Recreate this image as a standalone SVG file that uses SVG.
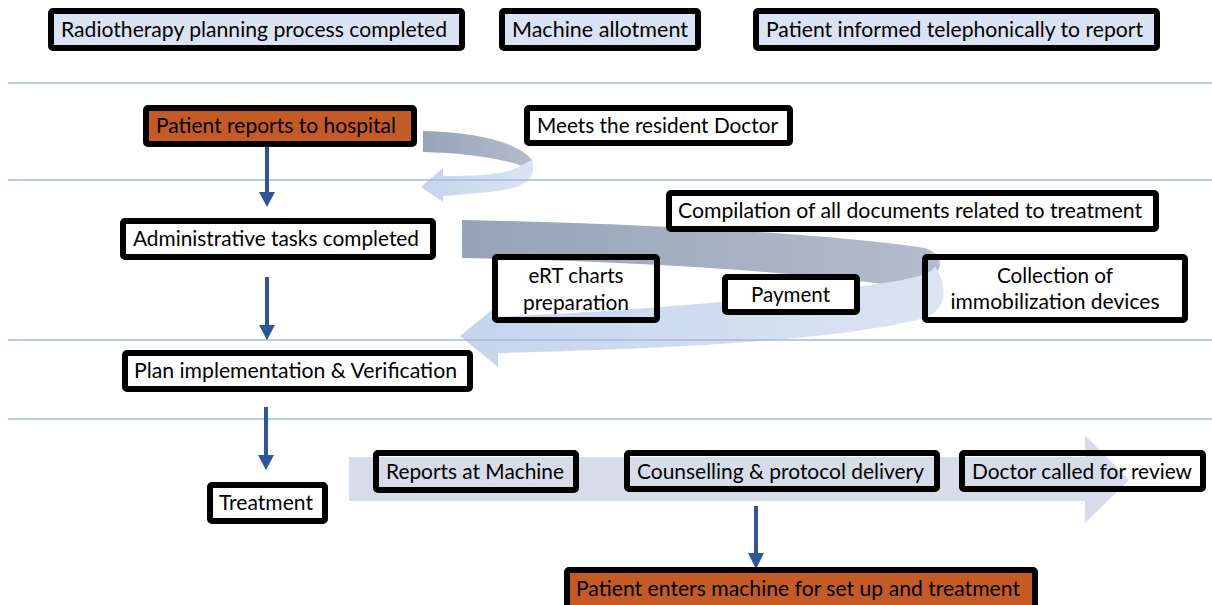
<svg xmlns="http://www.w3.org/2000/svg" width="1212" height="605" viewBox="0 0 1212 605">
<style>
.box{stroke:#000;stroke-width:6;stroke-linejoin:round}
.lb{fill:#dae3f3}
.wh{fill:#fff}
.no{fill:none}
.or{fill:#c45a26}
.t{font-family:Lato,"Liberation Sans",sans-serif;font-size:21px;fill:#000;text-anchor:middle}
.sep{stroke:#a3b8e0;stroke-width:1.5}
.conn line{stroke:#2f5597;stroke-width:4}
.conn polygon{fill:#2f5597}
</style>
<defs>
<linearGradient id="dk" x1="0" y1="0" x2="1" y2="0">
<stop offset="0" stop-color="#98a3b8"/>
<stop offset="1" stop-color="#b3bccc"/>
</linearGradient>
<linearGradient id="lt" x1="0" y1="0" x2="1" y2="0">
<stop offset="0" stop-color="#c6d4ec"/>
<stop offset="1" stop-color="#dbe4f3"/>
</linearGradient>
</defs>

<g id="bigshapes">
<path d="M423,131 C475,132 518,142 532,160 L532,170 C512,160 470,153 423,152 Z" fill="url(#dk)"/>
<path d="M532,160 C538,182 520,189 490,192 L443,196 L443,202 L421,187 L443,168 L443,176 C480,176 508,174 520,166 Z" fill="url(#lt)"/>
<path d="M462,220 C650,224 830,234 925,248 C945,255 945,272 925,280 L905,287 C800,272 650,262 462,258 Z" fill="url(#dk)"/>
<path d="M935,266 C950,290 945,310 925,318 C850,338 700,348 498,353 L498,367 L460,336 L498,305 L498,317 C650,310 780,298 870,285 C915,279 932,274 935,266 Z" fill="url(#lt)"/>
<polygon points="349,457 1085,457 1085,435 1129,480 1085,523 1085,501 349,501" fill="#d6dde8"/>
</g>

<g id="separators">
<line class="sep" x1="8" y1="83" x2="1212" y2="83"/>
<line class="sep" x1="8" y1="180" x2="1212" y2="180"/>
<line class="sep" x1="8" y1="340" x2="1212" y2="340"/>
<line class="sep" x1="8" y1="419" x2="1212" y2="419"/>
</g>

<g id="connectors" class="conn">
<line x1="267" y1="147" x2="267" y2="193"/><polygon points="259,192 275,192 267,207"/>
<line x1="267" y1="277" x2="267" y2="326"/><polygon points="259,325 275,325 267,340"/>
<line x1="266" y1="407" x2="266" y2="456"/><polygon points="258,455 274,455 266,470"/>
<line x1="756" y1="506" x2="756" y2="554"/><polygon points="748,553 764,553 756,569"/>
</g>

<g id="n1"><rect class="box lb" x="51" y="11" width="411" height="37" rx="2"/><text class="t" x="254" y="37" textLength="386" lengthAdjust="spacingAndGlyphs">Radiotherapy planning process completed</text></g>
<g id="n2"><rect class="box lb" x="502" y="11" width="196" height="37" rx="2"/><text class="t" x="600" y="37" textLength="176" lengthAdjust="spacingAndGlyphs">Machine allotment</text></g>
<g id="n3"><rect class="box lb" x="756" y="11" width="401" height="37" rx="2"/><text class="t" x="954.5" y="37" textLength="377" lengthAdjust="spacingAndGlyphs">Patient informed telephonically to report</text></g>

<g id="n4"><rect class="box or" x="146" y="108" width="268" height="36" rx="2"/><text class="t" x="276" y="133" textLength="240" lengthAdjust="spacingAndGlyphs">Patient reports to hospital</text></g>
<g id="n5"><rect class="box wh" x="527" y="108" width="263" height="35" rx="2"/><text class="t" x="657.5" y="133" textLength="241" lengthAdjust="spacingAndGlyphs">Meets the resident Doctor</text></g>
<g id="n6"><rect class="box wh" x="123" y="221" width="310" height="36" rx="2"/><text class="t" x="276" y="246" textLength="286" lengthAdjust="spacingAndGlyphs">Administrative tasks completed</text></g>
<g id="n7"><rect class="box wh" x="669" y="193" width="487" height="36" rx="2"/><text class="t" x="910" y="218" textLength="464" lengthAdjust="spacingAndGlyphs">Compilation of all documents related to treatment</text></g>
<g id="n8"><rect class="box no" x="495" y="257" width="162" height="63" rx="2"/><text class="t" x="576" y="283" textLength="95" lengthAdjust="spacingAndGlyphs">eRT charts</text><text class="t" x="576" y="310" textLength="106" lengthAdjust="spacingAndGlyphs">preparation</text></g>
<g id="n9"><rect class="box wh" x="725" y="277" width="132" height="35" rx="2"/><text class="t" x="790.5" y="302" textLength="79" lengthAdjust="spacingAndGlyphs">Payment</text></g>
<g id="n10"><rect class="box no" x="925" y="257" width="260" height="63" rx="2"/><text class="t" x="1055" y="283" textLength="116" lengthAdjust="spacingAndGlyphs">Collection of</text><text class="t" x="1055" y="309" textLength="209" lengthAdjust="spacingAndGlyphs">immobilization devices</text></g>
<g id="n11"><rect class="box wh" x="125" y="353" width="345" height="36" rx="2"/><text class="t" x="295.5" y="378" textLength="323" lengthAdjust="spacingAndGlyphs">Plan implementation &amp; Verification</text></g>
<g id="n12"><rect class="box wh" x="210" y="485" width="115" height="36" rx="2"/><text class="t" x="266" y="510" textLength="94" lengthAdjust="spacingAndGlyphs">Treatment</text></g>
<g id="n13"><rect class="box no" x="376" y="453" width="200" height="37" rx="2"/><text class="t" x="475" y="479" textLength="178" lengthAdjust="spacingAndGlyphs">Reports at Machine</text></g>
<g id="n14"><rect class="box no" x="627" y="453" width="310" height="36" rx="2"/><text class="t" x="780.5" y="479" textLength="287" lengthAdjust="spacingAndGlyphs">Counselling &amp; protocol delivery</text></g>
<g id="n15"><rect class="box no" x="962" y="453" width="241" height="36" rx="2"/><text class="t" x="1082" y="479" textLength="220" lengthAdjust="spacingAndGlyphs">Doctor called for review</text></g>
<g id="n16"><rect class="box or" x="567" y="570" width="468" height="42" rx="2"/><text class="t" x="798" y="596" textLength="444" lengthAdjust="spacingAndGlyphs">Patient enters machine for set up and treatment</text></g>
</svg>
